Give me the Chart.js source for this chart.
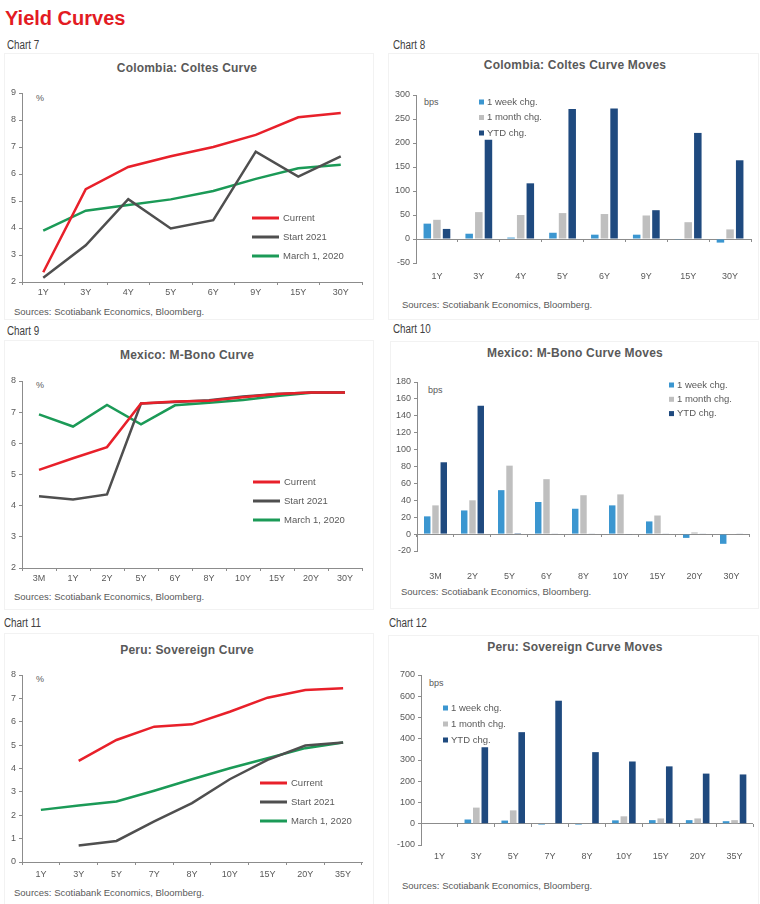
<!DOCTYPE html>
<html>
<head>
<meta charset="utf-8">
<script src="https://cdn.jsdelivr.net/npm/chart.js@4.4.0/dist/chart.umd.min.js"></script>
<style>
  body { margin: 0; background: #fff; }
  #page { position: relative; width: 760px; height: 904px; overflow: hidden; font-family: "Liberation Sans", Arial, sans-serif; color: #595959; }
  .txt { position: absolute; white-space: nowrap; line-height: 1; transform: translateY(-50%); }
  .mid { transform: translate(-50%, -50%); }
  .main { font-size: 20px; font-weight: bold; color: #e31b23; }
  .lbl { font-size: 12px; color: #404040; transform: translateY(-50%) scaleX(0.82); transform-origin: left center; }
  .ttl { font-size: 12px; font-weight: bold; color: #595959; letter-spacing: 0.2px; }
  .src { font-size: 9.5px; color: #595959; }
  .unit { font-size: 9px; color: #595959; }
  .box { position: absolute; border: 1px solid #f2f2f2; }
  .wrap { position: absolute; }
</style>
</head>
<body>
<div id="page">
  <div class="txt main" style="left:5px; top:18px;">Yield Curves</div>

  <div class="box" style="left:4px; top:53px; width:368px; height:265px;"></div>
  <div class="box" style="left:388px; top:53px; width:369px; height:265px;"></div>
  <div class="box" style="left:4px; top:340px; width:368px; height:268px;"></div>
  <div class="box" style="left:390px; top:341px; width:367px; height:266px;"></div>
  <div class="box" style="left:4px; top:633px; width:368px; height:270px;"></div>
  <div class="box" style="left:388px; top:635px; width:369px; height:268px;"></div>

  <div class="txt lbl" style="left:7px; top:45px;">Chart 7</div>
  <div class="txt lbl" style="left:393px; top:45px;">Chart 8</div>
  <div class="txt lbl" style="left:7px; top:331px;">Chart 9</div>
  <div class="txt lbl" style="left:393px; top:329px;">Chart 10</div>
  <div class="txt lbl" style="left:4px; top:623px;">Chart 11</div>
  <div class="txt lbl" style="left:389px; top:623px;">Chart 12</div>

  <div class="txt ttl mid" style="left:187px; top:68px;">Colombia: Coltes Curve</div>
  <div class="txt ttl mid" style="left:575px; top:65px;">Colombia: Coltes Curve Moves</div>
  <div class="txt ttl mid" style="left:187px; top:355px;">Mexico: M-Bono Curve</div>
  <div class="txt ttl mid" style="left:575px; top:353px;">Mexico: M-Bono Curve Moves</div>
  <div class="txt ttl mid" style="left:187px; top:650px;">Peru: Sovereign Curve</div>
  <div class="txt ttl mid" style="left:575px; top:647px;">Peru: Sovereign Curve Moves</div>

  <div class="txt unit" style="left:36px; top:98px;">%</div>
  <div class="txt unit" style="left:424px; top:102px;">bps</div>
  <div class="txt unit" style="left:36px; top:385px;">%</div>
  <div class="txt unit" style="left:428px; top:390px;">bps</div>
  <div class="txt unit" style="left:36px; top:679px;">%</div>
  <div class="txt unit" style="left:429px; top:683px;">bps</div>

  <div class="txt src" style="left:14px; top:312px;">Sources: Scotiabank Economics, Bloomberg.</div>
  <div class="txt src" style="left:402px; top:305px;">Sources: Scotiabank Economics, Bloomberg.</div>
  <div class="txt src" style="left:14px; top:597px;">Sources: Scotiabank Economics, Bloomberg.</div>
  <div class="txt src" style="left:401px; top:592px;">Sources: Scotiabank Economics, Bloomberg.</div>
  <div class="txt src" style="left:14px; top:893px;">Sources: Scotiabank Economics, Bloomberg.</div>
  <div class="txt src" style="left:402px; top:886px;">Sources: Scotiabank Economics, Bloomberg.</div>

  <div class="wrap" style="left:0px; top:80px; width:380px; height:225px;"><canvas id="c7"></canvas></div>
  <div class="wrap" style="left:380px; top:80px; width:380px; height:205px;"><canvas id="c8"></canvas></div>
  <div class="wrap" style="left:0px; top:368px; width:380px; height:222px;"><canvas id="c9"></canvas></div>
  <div class="wrap" style="left:380px; top:368px; width:380px; height:217px;"><canvas id="c10"></canvas></div>
  <div class="wrap" style="left:0px; top:660px; width:380px; height:228px;"><canvas id="c11"></canvas></div>
  <div class="wrap" style="left:380px; top:660px; width:380px; height:210px;"><canvas id="c12"></canvas></div>
</div>

<script>
// series names
const seriesLines = ['Current', 'Start 2021', 'March 1, 2020'];
const seriesBars = ['1 week chg.', '1 month chg.', 'YTD chg.'];

// Chart 7 - Colombia: Coltes curve (%)
const colTenors = ['1Y', '3Y', '4Y', '5Y', '6Y', '9Y', '15Y', '30Y'];
const colCurrent = [2.36, 5.44, 6.26, 6.66, 7.0, 7.45, 8.1, 8.26];
const colStart2021 = [2.16, 3.36, 5.07, 3.98, 4.29, 6.83, 5.9, 6.65];
const colMar2020 = [3.9, 4.64, 4.85, 5.06, 5.37, 5.82, 6.21, 6.34];

// Chart 8 - Colombia: Coltes curve moves (bps)
const colWeek = [32, 11, 3, 13, 9, 9, -1.5, -7.5];
const colMonth = [40, 56, 50, 54, 52, 49, 35, 20];
const colYtd = [21, 207, 116, 271, 272, 60, 221, 164];

// Chart 9 - Mexico: M-Bono curve (%)
const mexTenors = ['3M', '1Y', '2Y', '5Y', '6Y', '8Y', '10Y', '15Y', '20Y', '30Y'];
const mexCurrent = [5.15, 5.52, 5.88, 7.28, 7.34, 7.37, 7.48, 7.58, 7.63, 7.63];
const mexStart2021 = [4.3, 4.2, 4.36, 7.28, 7.33, 7.38, 7.5, 7.58, 7.63, 7.63];
const mexMar2020 = [6.93, 6.54, 7.23, 6.61, 7.22, 7.3, 7.39, 7.52, 7.62, 7.63];

// Chart 10 - Mexico: M-Bono curve moves (bps)
const mexMoveTenors = ['3M', '2Y', '5Y', '6Y', '8Y', '10Y', '15Y', '20Y', '30Y'];
const mexWeek = [21, 28, 52, 38, 30, 34, 15, -4.5, -11.5];
const mexMonth = [34, 40, 81, 65, 46, 47, 22, 2, -0.5];
const mexYtd = [85, 152, 1, 0.5, 0.5, -0.5, 0.5, 0.5, 0.5];

// Chart 11 - Peru: sovereign curve (%)
const peruTenors = ['1Y', '3Y', '5Y', '7Y', '8Y', '10Y', '15Y', '20Y', '35Y'];
const peruCurrent = [null, 4.33, 5.22, 5.79, 5.89, 6.43, 7.03, 7.36, 7.43];
const peruStart2021 = [null, 0.71, 0.9, 1.74, 2.52, 3.54, 4.37, 4.98, 5.11];
const peruMar2020 = [2.23, 2.42, 2.59, 3.05, 3.54, 4.01, 4.44, 4.87, 5.11];

// Chart 12 - Peru: sovereign curve moves (bps)
const peruWeek = [null, 20, 15, -5, -5, 16, 17, 17, 12];
const peruMonth = [null, 76, 63, 0, 0, 35, 25, 25, 17];
const peruYtd = [null, 360, 431, 579, 337, 293, 270, 236, 232];

const lineColors = ['#e8202a', '#4f4f4f', '#1b9a57'];
const barColors = ['#3b96d0', '#bfbfbf', '#1f4a7f'];
const axisColor = '#8c8c8c';
const textColor = '#595959';
const fontFamily = '"Liberation Sans", Arial, sans-serif';

// legend drawn inside the plot, like the Excel originals
const insetLegend = {
    id: 'insetLegend',
    afterDraw(chart, args, opts) {
        if (!opts || opts.x === undefined) return;
        const ctx = chart.ctx;
        ctx.save();
        ctx.font = '9.5px ' + fontFamily;
        ctx.textBaseline = 'middle';
        chart.data.datasets.forEach((ds, i) => {
            const y = opts.y + i * opts.row;
            if (opts.kind === 'line') {
                ctx.strokeStyle = ds.borderColor;
                ctx.lineWidth = 3;
                ctx.beginPath();
                ctx.moveTo(opts.x, y);
                ctx.lineTo(opts.x + 27, y);
                ctx.stroke();
                ctx.fillStyle = textColor;
                ctx.fillText(ds.label, opts.x + 31, y);
            } else {
                ctx.fillStyle = ds.backgroundColor;
                ctx.fillRect(opts.x, y - 2.5, 5, 5);
                ctx.fillStyle = textColor;
                ctx.fillText(ds.label, opts.x + 8, y);
            }
        });
        ctx.restore();
    }
};

const tickFont = { family: fontFamily, size: 9 };

// geometry: canvas box and plot box, in page pixels
function layoutFor(box, plot) {
    return {
        padding: { left: 0, top: plot.top - box.top, right: box.left + box.width - plot.right, bottom: 0 },
        yWidth: plot.left - box.left,
        xHeight: box.top + box.height - plot.bottom
    };
}

function makeLine(id, box, plot, labels, series, yMin, yMax, xPad, legend) {
    const lay = layoutFor(box, plot);
    new Chart(document.getElementById(id), {
        type: 'line',
        data: {
            labels: labels,
            datasets: series.map((data, i) => ({
                label: seriesLines[i],
                data: data,
                borderColor: lineColors[i],
                backgroundColor: lineColors[i],
                borderWidth: 2.5,
                pointRadius: 0,
                tension: 0,
                spanGaps: false
            }))
        },
        options: {
            responsive: true,
            maintainAspectRatio: false,
            animation: false,
            layout: { padding: lay.padding },
            plugins: {
                legend: { display: false },
                tooltip: { enabled: false },
                insetLegend: {
                    kind: 'line',
                    x: legend.x - box.left,
                    y: legend.y - box.top,
                    row: legend.row
                }
            },
            scales: {
                x: {
                    offset: true,
                    grid: { offset: true, drawOnChartArea: false, tickLength: 3, tickColor: axisColor },
                    border: { display: true, color: axisColor },
                    ticks: { font: tickFont, color: textColor, padding: xPad, autoSkip: false, maxRotation: 0 },
                    afterFit: s => { s.height = lay.xHeight; }
                },
                y: {
                    min: yMin,
                    max: yMax,
                    grid: { drawOnChartArea: false, tickLength: 3, tickColor: axisColor },
                    border: { display: true, color: axisColor },
                    ticks: { stepSize: 1, font: tickFont, color: textColor, padding: 3 },
                    afterFit: s => { s.width = lay.yWidth; }
                }
            }
        },
        plugins: [insetLegend]
    });
}

function makeBars(id, box, plot, labels, series, yMin, yMax, step, xPad, catPct, legend) {
    const lay = layoutFor(box, plot);
    new Chart(document.getElementById(id), {
        type: 'bar',
        data: {
            labels: labels,
            datasets: series.map((data, i) => ({
                label: seriesBars[i],
                data: data,
                backgroundColor: barColors[i],
                categoryPercentage: catPct,
                barPercentage: 0.78
            }))
        },
        options: {
            responsive: true,
            maintainAspectRatio: false,
            animation: false,
            layout: { padding: lay.padding },
            plugins: {
                legend: { display: false },
                tooltip: { enabled: false },
                insetLegend: {
                    kind: 'box',
                    x: legend.x - box.left,
                    y: legend.y - box.top,
                    row: legend.row
                }
            },
            scales: {
                // labels sit at the bottom of the plot
                x: {
                    grid: { display: false, drawTicks: false },
                    border: { display: false },
                    ticks: { font: tickFont, color: textColor, padding: xPad, autoSkip: false, maxRotation: 0 },
                    afterFit: s => { s.height = lay.xHeight; }
                },
                // small category tick marks along the zero line
                xZero: {
                    type: 'category',
                    position: { y: 0 },
                    offset: true,
                    grid: { offset: true, drawOnChartArea: false, tickLength: 3, tickColor: axisColor },
                    border: { display: false },
                    ticks: { display: false }
                },
                y: {
                    min: yMin,
                    max: yMax,
                    grid: {
                        drawOnChartArea: true,
                        color: ctx => (ctx.tick && ctx.tick.value === 0) ? axisColor : 'rgba(0,0,0,0)',
                        tickLength: 3,
                        tickColor: axisColor
                    },
                    border: { display: true, color: axisColor },
                    ticks: { stepSize: step, font: tickFont, color: textColor, padding: 3 },
                    afterFit: s => { s.width = lay.yWidth; }
                }
            }
        },
        plugins: [insetLegend]
    });
}

makeLine('c7',
    { left: 0, top: 80, width: 380, height: 225 },
    { left: 22, right: 362, top: 93, bottom: 282 },
    colTenors, [colCurrent, colStart2021, colMar2020], 2, 9, 2,
    { x: 252, y: 218, row: 19 });

makeBars('c8',
    { left: 380, top: 80, width: 380, height: 205 },
    { left: 416, right: 751, top: 95, bottom: 263 },
    colTenors, [colWeek, colMonth, colYtd], -50, 300, 50, 8, 0.69,
    { x: 479, y: 102, row: 15.5 });

makeLine('c9',
    { left: 0, top: 368, width: 380, height: 222 },
    { left: 22, right: 362, top: 381, bottom: 568 },
    mexTenors, [mexCurrent, mexStart2021, mexMar2020], 2, 8, 2,
    { x: 253, y: 482, row: 19 });

makeBars('c10',
    { left: 380, top: 368, width: 380, height: 217 },
    { left: 417, right: 751, top: 382, bottom: 551 },
    mexMoveTenors, [mexWeek, mexMonth, mexYtd], -20, 180, 20, 20, 0.67,
    { x: 669, y: 385, row: 14.3 });

makeLine('c11',
    { left: 0, top: 660, width: 380, height: 228 },
    { left: 22, right: 362, top: 675, bottom: 862 },
    peruTenors, [peruCurrent, peruStart2021, peruMar2020], 0, 8, 4,
    { x: 260, y: 783, row: 19 });

makeBars('c12',
    { left: 380, top: 660, width: 380, height: 210 },
    { left: 421, right: 753, top: 675, bottom: 845 },
    peruTenors, [peruWeek, peruMonth, peruYtd], -100, 700, 100, 6, 0.69,
    { x: 443, y: 708, row: 16 });
</script>
</body>
</html>
